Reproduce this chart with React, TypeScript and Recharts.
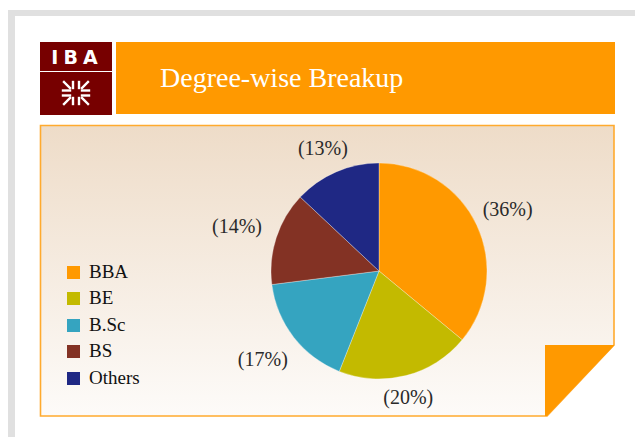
import React from 'react';
import { PieChart, Pie, Cell, Legend } from 'recharts';

const categories = ['BBA', 'BE', 'B.Sc', 'BS', 'Others'];
const shares = [36, 20, 17, 14, 13];
const colors = ['#FF9900', '#C3BA00', '#35A4C0', '#833224', '#1F2884'];
const title = 'Degree-wise Breakup';

const data = categories.map((name, i) => ({ name, value: shares[i] }));

const SERIF = '"Liberation Serif", "DejaVu Serif", serif';
const RAD = Math.PI / 180;

const renderLabel = (props: any) => {
  const { cx, cy, midAngle, outerRadius, value } = props;
  const c = Math.cos(-midAngle * RAD);
  const s = Math.sin(-midAngle * RAD);
  const w = 56;
  const h = 10;
  const dist = outerRadius + 10 + (w / 2) * Math.abs(c) + (h / 2) * Math.abs(s);
  const x = cx + dist * c - 3;
  const y = cy + dist * s;
  return (
    <text
      x={x}
      y={y}
      textAnchor="middle"
      dominantBaseline="central"
      fill="#2a2a2a"
      style={{ fontFamily: SERIF, fontSize: 20 }}
    >
      {`(${value}%)`}
    </text>
  );
};

const renderLegend = (props: any) => {
  const payload = [...(props.payload || [])].sort(
    (a: any, b: any) => categories.indexOf(a.value) - categories.indexOf(b.value)
  );
  return (
    <div style={{ fontFamily: SERIF, fontSize: 19, color: '#111' }}>
      {payload.map((p: any, i: number) => (
        <div key={i} style={{ display: 'flex', alignItems: 'center', height: 26.5 }}>
          <span
            style={{
              display: 'inline-block',
              width: 13,
              height: 13,
              background: p.color,
              marginRight: 9,
            }}
          />
          <span style={{ lineHeight: '26.5px', fontFamily: SERIF }}>{p.value}</span>
        </div>
      ))}
    </div>
  );
};

const Logo = () => (
  <svg width={72} height={73} style={{ position: 'absolute', left: 40, top: 42 }}>
    <rect x={0} y={0} width={72} height={73} fill="#770000" />
    <line x1={0} y1={29.5} x2={72} y2={29.5} stroke="#fff" strokeWidth={1} />
    <text
      x={37}
      y={22}
      textAnchor="middle"
      fill="#fff"
      style={{ fontFamily: '"DejaVu Sans", sans-serif', fontWeight: 700, fontSize: 19, letterSpacing: 5 }}
    >
      IBA
    </text>
    <g stroke="#fff" strokeWidth={2.4} fill="none" strokeLinecap="square">
      <line x1={33} y1={40} x2={33} y2={46} />
      <line x1={39} y1={40} x2={39} y2={46} />
      <line x1={33} y1={56} x2={33} y2={62} />
      <line x1={39} y1={56} x2={39} y2={62} />
      <line x1={23} y1={48.5} x2={30} y2={48.5} />
      <line x1={23} y1={53.5} x2={30} y2={53.5} />
      <line x1={42} y1={48.5} x2={49} y2={48.5} />
      <line x1={42} y1={53.5} x2={49} y2={53.5} />
      <line x1={24} y1={40} x2={30} y2={46} />
      <line x1={48} y1={40} x2={42} y2={46} />
      <line x1={24} y1={62} x2={30} y2={56} />
      <line x1={48} y1={62} x2={42} y2={56} />
    </g>
  </svg>
);

export default function App() {
  return (
    <div
      style={{
        position: 'fixed',
        left: 0,
        top: 0,
        width: 635,
        height: 437,
        background: '#ffffff',
        overflow: 'hidden',
      }}
    >
      <div style={{ position: 'absolute', left: 8, top: 10, width: 640, height: 6, background: '#E0E0E0' }} />
      <div style={{ position: 'absolute', left: 8, top: 10, width: 7, height: 440, background: '#E0E0E0' }} />

      <Logo />

      <div
        style={{
          position: 'absolute',
          left: 116,
          top: 42,
          width: 499,
          height: 72,
          background: '#FF9900',
        }}
      />
      <div
        style={{
          position: 'absolute',
          left: 160,
          top: 62,
          fontFamily: SERIF,
          fontSize: 28,
          lineHeight: '32px',
          color: '#fff',
          whiteSpace: 'nowrap',
        }}
      >
        {title}
      </div>

      <svg width={635} height={437} style={{ position: 'absolute', left: 0, top: 0 }}>
        <defs>
          <linearGradient id="pg" x1="0" y1="0" x2="0" y2="1">
            <stop offset="0%" stopColor="#EEDCC8" />
            <stop offset="100%" stopColor="#FDFBF9" />
          </linearGradient>
        </defs>
        <polygon
          points="40.5,125.5 614,125.5 614,345 547,416 40.5,416"
          fill="url(#pg)"
          stroke="#FFAA2E"
          strokeWidth={1.6}
        />
        <polygon points="545,345 614.5,345 547,416 545,416" fill="#FF9900" />
      </svg>

      <div style={{ position: 'absolute', left: 0, top: 0 }}>
        <PieChart width={635} height={437} margin={{ top: 0, right: 0, bottom: 0, left: 0 }}>
          <Pie
            data={data}
            dataKey="value"
            nameKey="name"
            cx={379}
            cy={271}
            outerRadius={108}
            startAngle={90}
            endAngle={-270}
            stroke="rgba(255,255,255,0.5)"
            strokeWidth={0.6}
            label={renderLabel}
            labelLine={false}
            isAnimationActive={false}
          >
            {data.map((d, i) => (
              <Cell key={d.name} fill={colors[i]} />
            ))}
          </Pie>
          <Legend
            layout="vertical"
            align="center"
            verticalAlign="middle"
            content={renderLegend}
            wrapperStyle={{ left: 67, top: 258.75, width: 150, height: 133 }}
          />
        </PieChart>
      </div>
    </div>
  );
}
